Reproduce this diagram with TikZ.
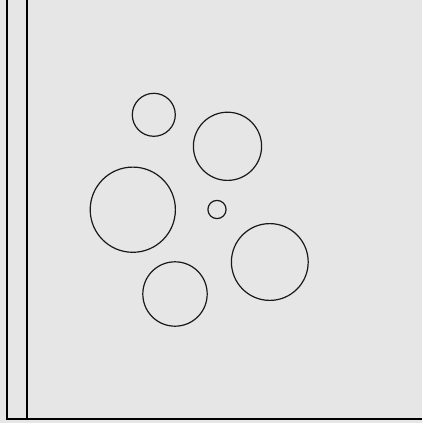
\documentclass[tikz,border=0pt]{standalone}
\definecolor{bg}{HTML}{E6E6E6}
\tikzset{
  hole/.style={draw=black!90, line width=1.2pt},
  frame/.style={draw=black, line width=1.4pt}
}
\begin{document}
\begin{tikzpicture}[x=1pt,y=-1pt]
\fill[bg] (0,0) rectangle (422,423);
\useasboundingbox (0,0) rectangle (422,423);
\coordinate (l1t) at (7,0);
\coordinate (l1b) at (7,419);
\coordinate (l2t) at (27,0);
\coordinate (l2b) at (27,419);
\coordinate (br) at (422,419);
\draw[frame] (l1t) -- (l1b) -- (br);
\draw[frame] (l2t) -- (l2b);
\draw[hole] (153.8,114.8) circle (21.5);
\draw[hole] (227.5,146.3) circle (34.1);
\draw[hole] (132.8,209.7) circle (42.6);
\draw[hole] (217,209.5) circle (9.1);
\draw[hole] (175,294) circle (32.2);
\draw[hole] (269.8,262) circle (38.4);
\end{tikzpicture}
\end{document}
